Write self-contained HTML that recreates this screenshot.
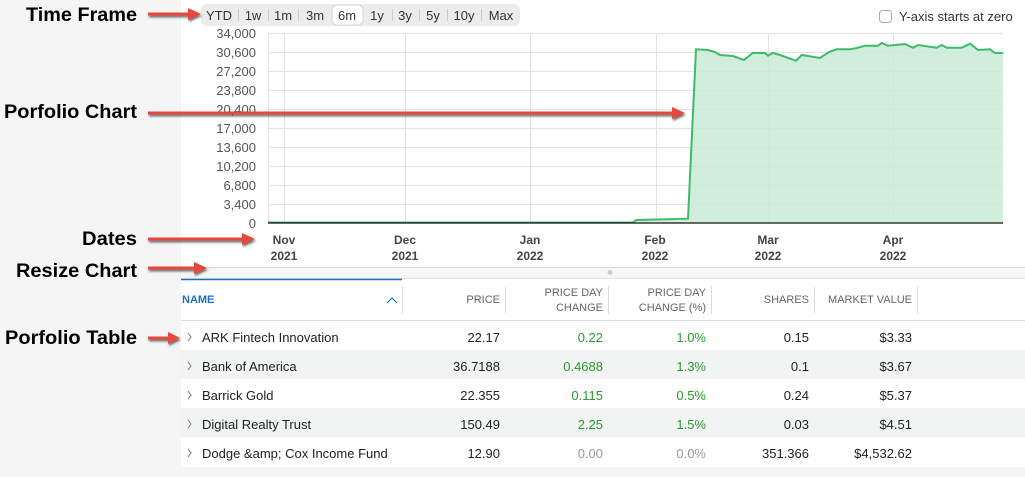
<!DOCTYPE html>
<html><head><meta charset="utf-8"><style>
html,body{margin:0;padding:0;background:#f5f5f5;}
svg{display:block;font-family:"Liberation Sans",sans-serif;}
</style></head><body>
<svg width="1025" height="477" viewBox="0 0 1025 477" xmlns="http://www.w3.org/2000/svg">
<defs>
<filter id="sh" x="-10%" y="-100%" width="120%" height="300%"><feDropShadow dx="1" dy="2" stdDeviation="1" flood-color="#333" flood-opacity="0.7"/></filter>
</defs>
<rect x="0" y="0" width="1025" height="477" fill="#f5f5f5"/>
<rect x="181" y="0" width="844" height="267" fill="#fff"/>
<rect x="181" y="267" width="844" height="12" fill="#f7f7f7"/>
<line x1="181" y1="267.5" x2="1025" y2="267.5" stroke="#d8d8d8"/>
<line x1="181" y1="278.5" x2="1025" y2="278.5" stroke="#e4e4e4"/>
<circle cx="610" cy="272.5" r="2.5" fill="#ccc"/>
<rect x="181" y="279" width="844" height="188" fill="#fff"/>
<rect x="181" y="350" width="844" height="29" fill="#f2f4f4"/>
<rect x="181" y="408" width="844" height="29" fill="#f2f4f4"/>
<line x1="181" y1="279.5" x2="402" y2="279.5" stroke="#1a6fc0" stroke-width="1.5"/>
<line x1="181" y1="320.5" x2="1025" y2="320.5" stroke="#ddd"/>
<g stroke="#ddd"><line x1="402.5" y1="286" x2="402.5" y2="314"/><line x1="505.5" y1="286" x2="505.5" y2="314"/><line x1="608.5" y1="286" x2="608.5" y2="314"/><line x1="711.5" y1="286" x2="711.5" y2="314"/><line x1="814.5" y1="286" x2="814.5" y2="314"/><line x1="917.5" y1="286" x2="917.5" y2="314"/></g>
<text x="182" y="303" font-size="11" font-weight="bold" fill="#1a6fc0">NAME</text>
<path d="M387 303 L392 298 L397 303" fill="none" stroke="#1a6fc0" stroke-width="1.2"/>
<g font-size="11" fill="#666" text-anchor="end">
<text x="500" y="303">PRICE</text>
<text x="603" y="296">PRICE DAY</text><text x="603" y="311">CHANGE</text>
<text x="706" y="296">PRICE DAY</text><text x="706" y="311">CHANGE (%)</text>
<text x="809" y="303">SHARES</text>
<text x="912" y="303">MARKET VALUE</text>
</g>
<g font-size="13" fill="#222">
<g fill="none" stroke="#777" stroke-width="1"><path d="M188 333 L191 337 L188 341"/><path d="M188 362 L191 366 L188 370"/><path d="M188 391 L191 395 L188 399"/><path d="M188 420 L191 424 L188 428"/><path d="M188 449 L191 453 L188 457"/></g>
<text x="202" y="342">ARK Fintech Innovation</text>
<text x="202" y="371">Bank of America</text>
<text x="202" y="400">Barrick Gold</text>
<text x="202" y="429">Digital Realty Trust</text>
<text x="202" y="458">Dodge &amp;amp; Cox Income Fund</text>
<g text-anchor="end">
<text x="500" y="342">22.17</text><text x="500" y="371">36.7188</text><text x="500" y="400">22.355</text><text x="500" y="429">150.49</text><text x="500" y="458">12.90</text>
<g fill="#2a9a2a"><text x="603" y="342">0.22</text><text x="603" y="371">0.4688</text><text x="603" y="400">0.115</text><text x="603" y="429">2.25</text>
<text x="706" y="342">1.0%</text><text x="706" y="371">1.3%</text><text x="706" y="400">0.5%</text><text x="706" y="429">1.5%</text></g>
<text x="603" y="458" fill="#999">0.00</text><text x="706" y="458" fill="#999">0.0%</text>
<text x="809" y="342">0.15</text><text x="809" y="371">0.1</text><text x="809" y="400">0.24</text><text x="809" y="429">0.03</text><text x="809" y="458">351.366</text>
<text x="912" y="342">$3.33</text><text x="912" y="371">$3.67</text><text x="912" y="400">$5.37</text><text x="912" y="429">$4.51</text><text x="912" y="458">$4,532.62</text>
</g></g>
<!-- time frame -->
<rect x="201" y="4" width="319" height="22" rx="6" fill="#ececec"/>
<rect x="332" y="5" width="31" height="20" rx="5" fill="#fff" stroke="#d6d6d6"/>
<g stroke="#ccc"><line x1="238.5" y1="9" x2="238.5" y2="21"/><line x1="268.5" y1="9" x2="268.5" y2="21"/><line x1="298.5" y1="9" x2="298.5" y2="21"/><line x1="392.5" y1="9" x2="392.5" y2="21"/><line x1="419.5" y1="9" x2="419.5" y2="21"/><line x1="447.5" y1="9" x2="447.5" y2="21"/><line x1="481.5" y1="9" x2="481.5" y2="21"/></g>
<g font-size="13" fill="#333" text-anchor="middle">
<text x="219" y="20">YTD</text><text x="253" y="20">1w</text><text x="283" y="20">1m</text><text x="315" y="20">3m</text><text x="347" y="20">6m</text><text x="377" y="20">1y</text><text x="405" y="20">3y</text><text x="433" y="20">5y</text><text x="464" y="20">10y</text><text x="501" y="20">Max</text>
</g>
<rect x="879.5" y="10.5" width="12" height="12" rx="3" fill="#fff" stroke="#aaa"/>
<text x="899" y="21" font-size="13" fill="#333">Y-axis starts at zero</text>
<!-- grid -->
<g stroke="#e2e2e2">
<line x1="268" y1="33.5" x2="1003" y2="33.5"/><line x1="268" y1="52.5" x2="1003" y2="52.5"/><line x1="268" y1="71.5" x2="1003" y2="71.5"/><line x1="268" y1="90.5" x2="1003" y2="90.5"/><line x1="268" y1="109.5" x2="1003" y2="109.5"/><line x1="268" y1="128.5" x2="1003" y2="128.5"/><line x1="268" y1="147.5" x2="1003" y2="147.5"/><line x1="268" y1="166.5" x2="1003" y2="166.5"/><line x1="268" y1="185.5" x2="1003" y2="185.5"/><line x1="268" y1="204.5" x2="1003" y2="204.5"/>
<line x1="268.5" y1="33" x2="268.5" y2="223"/><line x1="284.5" y1="33" x2="284.5" y2="223"/><line x1="405.5" y1="33" x2="405.5" y2="223"/><line x1="530.5" y1="33" x2="530.5" y2="223"/><line x1="656.5" y1="33" x2="656.5" y2="223"/><line x1="768.5" y1="33" x2="768.5" y2="223"/><line x1="893.5" y1="33" x2="893.5" y2="223"/>
</g>
<path d="M268 222.5 L633 222.5 L636 220 L688 218.7 L696 49.3 L707.7 50 L715 52 L720 55 L733 56 L744 60 L752.7 53 L765 53 L768 55.7 L772.7 53 L780 55 L796 60.7 L801.7 55 L820 58 L829 52 L836.7 49.3 L850 49.3 L856.7 48 L865 45.7 L878 45.7 L881.7 43 L888 45.7 L905 44 L913 47.7 L918 45 L936.7 47.7 L941.7 45 L946.7 47.7 L961.7 47.7 L970 43.7 L978 50 L990 49.3 L995 53 L1003 53 L1003 223 L268 223 Z" fill="#c9ebd6" fill-opacity="0.85"/>
<path d="M268 222.5 L633 222.5 L636 220 L688 218.7 L696 49.3 L707.7 50 L715 52 L720 55 L733 56 L744 60 L752.7 53 L765 53 L768 55.7 L772.7 53 L780 55 L796 60.7 L801.7 55 L820 58 L829 52 L836.7 49.3 L850 49.3 L856.7 48 L865 45.7 L878 45.7 L881.7 43 L888 45.7 L905 44 L913 47.7 L918 45 L936.7 47.7 L941.7 45 L946.7 47.7 L961.7 47.7 L970 43.7 L978 50 L990 49.3 L995 53 L1003 53" fill="none" stroke="#3dba6c" stroke-width="2"/>
<line x1="268" y1="223" x2="1003" y2="223" stroke="#111" stroke-width="1.2"/>
<g font-size="13" fill="#555" text-anchor="end">
<text x="256" y="38">34,000</text><text x="256" y="57">30,600</text><text x="256" y="76">27,200</text><text x="256" y="95">23,800</text><text x="256" y="114">20,400</text><text x="256" y="133">17,000</text><text x="256" y="152">13,600</text><text x="256" y="171">10,200</text><text x="256" y="190">6,800</text><text x="256" y="209">3,400</text><text x="256" y="228">0</text>
</g>
<g font-size="12" fill="#444" text-anchor="middle" font-weight="bold">
<text x="284" y="244">Nov</text><text x="284" y="260">2021</text>
<text x="405" y="244">Dec</text><text x="405" y="260">2021</text>
<text x="530" y="244">Jan</text><text x="530" y="260">2022</text>
<text x="655" y="244">Feb</text><text x="655" y="260">2022</text>
<text x="768" y="244">Mar</text><text x="768" y="260">2022</text>
<text x="893" y="244">Apr</text><text x="893" y="260">2022</text>
</g>
<!-- annotations -->
<g font-size="19" font-weight="bold" fill="#000">
<text x="26" y="21" textLength="111" lengthAdjust="spacingAndGlyphs">Time Frame</text>
<text x="4" y="118" textLength="133" lengthAdjust="spacingAndGlyphs">Porfolio Chart</text>
<text x="82" y="245" textLength="55" lengthAdjust="spacingAndGlyphs">Dates</text>
<text x="16" y="277" textLength="121" lengthAdjust="spacingAndGlyphs">Resize Chart</text>
<text x="5" y="344" textLength="132" lengthAdjust="spacingAndGlyphs">Porfolio Table</text>
</g>
<g fill="#e8473c" filter="url(#sh)">
<path d="M148 12.5 H188 V8 L201 14 L188 20 V15.5 H148 Z"/>
<path d="M148 111.5 H672 V107 L685 113 L672 119 V114.5 H148 Z"/>
<path d="M148 237.5 H242 V233 L255 239 L242 245 V240.5 H148 Z"/>
<path d="M148 266.5 H194 V262 L207 268 L194 274 V269.5 H148 Z"/>
<path d="M148 336.5 H168 V332 L180 338 L168 344 V339.5 H148 Z"/>
</g>
</svg>
</body></html>
